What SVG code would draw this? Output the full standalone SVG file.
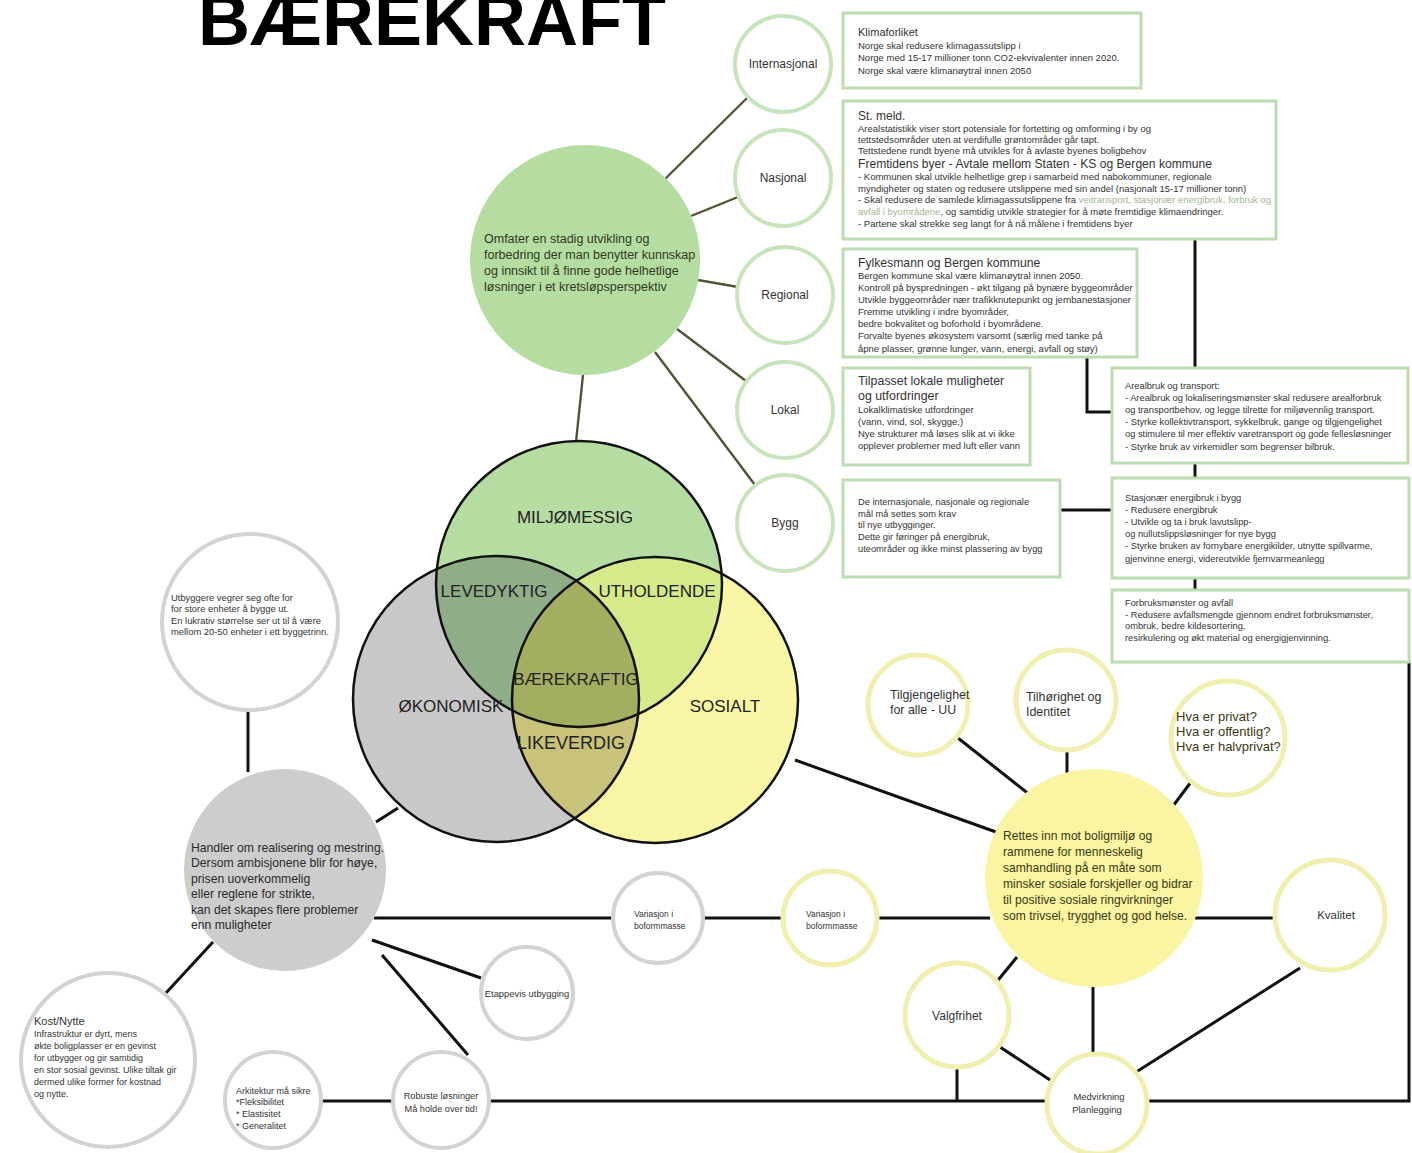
<svg xmlns="http://www.w3.org/2000/svg" width="1412" height="1153" viewBox="0 0 1412 1153">
<style>
.t{font-family:"Liberation Sans",Arial,sans-serif;fill:#333}
.v{font-family:"Liberation Sans",Arial,sans-serif;fill:#222;font-size:17px;text-anchor:middle}
.box{fill:#fff;stroke:#bddcb1;stroke-width:3}
.cg{fill:#fff;stroke:#c8e4bc;stroke-width:4}
.cy{fill:#fff;stroke:#f1efb0;stroke-width:5}
.cr{fill:#fff;stroke:#d3d3d3;stroke-width:4}
.ln{stroke:#111;stroke-width:3;fill:none}
.lo{stroke:#55523a;stroke-width:2.4;fill:none}
.s8{font-size:9.5px}
.s75{font-size:9.3px}
.m{text-anchor:middle}
.bg{font-size:12.5px;fill:#2e3b1f}
.gy{font-size:12.2px;fill:#2a2a2a}
.yw{font-size:12.1px;fill:#3b3810}
</style>
<defs>
<clipPath id="cG"><circle cx="579" cy="584" r="143"/></clipPath>
<clipPath id="cK"><circle cx="496" cy="699" r="143"/></clipPath>
<clipPath id="cY"><circle cx="655" cy="700" r="143"/></clipPath>
</defs>
<rect width="1412" height="1153" fill="#fff"/>

<g id="title"><text x="198" y="45" style="font-family:'Liberation Sans',Arial,sans-serif;font-weight:bold;font-size:72px;fill:#000">BÆREKRAFT</text></g>

<g id="connectors">
<line class="lo" x1="662" y1="182" x2="747" y2="98"/>
<line class="lo" x1="691" y1="216" x2="738" y2="197"/>
<line class="lo" x1="698" y1="280" x2="738" y2="287"/>
<line class="lo" x1="677" y1="329" x2="746" y2="381"/>
<line class="lo" x1="655" y1="352" x2="755" y2="485"/>
<line class="lo" x1="583" y1="375" x2="576" y2="442"/>
<polyline class="ln" points="1195,240 1195,368"/>
<polyline class="ln" points="1087,357 1087,412 1112,412"/>
<line class="ln" x1="1060" y1="510" x2="1112" y2="510"/>
<line class="ln" x1="1195" y1="463" x2="1195" y2="478"/>
<line class="ln" x1="1195" y1="578" x2="1195" y2="590"/>
<polyline class="ln" points="1409,662 1409,1101 1147,1101"/>
<line class="ln" x1="488" y1="1101" x2="1047" y2="1101"/>
<line class="ln" x1="321" y1="1101" x2="392" y2="1101"/>
<line class="ln" x1="957" y1="1067" x2="957" y2="1101"/>
<line class="ln" x1="248" y1="711" x2="248" y2="772"/>
<line class="ln" x1="376" y1="822" x2="398" y2="808"/>
<line class="ln" x1="795" y1="760" x2="996" y2="832"/>
<line class="ln" x1="374" y1="918" x2="613" y2="918"/>
<line class="ln" x1="703" y1="918" x2="782" y2="918"/>
<line class="ln" x1="878" y1="918" x2="990" y2="918"/>
<line class="ln" x1="1195" y1="918" x2="1275" y2="918"/>
<line class="ln" x1="372" y1="940" x2="481" y2="978"/>
<line class="ln" x1="213" y1="942" x2="165" y2="994"/>
<line class="ln" x1="382" y1="955" x2="468" y2="1055"/>
<line class="ln" x1="958" y1="738" x2="1030" y2="795"/>
<line class="ln" x1="1067" y1="750" x2="1067" y2="778"/>
<line class="ln" x1="1191" y1="782" x2="1173" y2="806"/>
<line class="ln" x1="1017" y1="957" x2="990" y2="990"/>
<line class="ln" x1="1093" y1="986" x2="1093" y2="1054"/>
<line class="ln" x1="997" y1="1045" x2="1050" y2="1080"/>
<line class="ln" x1="1300" y1="968" x2="1133" y2="1074"/>
</g>

<g id="venn">
<circle cx="496" cy="699" r="143" fill="#c8c8c8"/>
<circle cx="655" cy="700" r="143" fill="#f9f6a6"/>
<circle cx="579" cy="584" r="143" fill="#b5dca1"/>
<circle cx="655" cy="700" r="143" fill="#c9c27a" clip-path="url(#cK)"/>
<circle cx="496" cy="699" r="143" fill="#8fad87" clip-path="url(#cG)"/>
<circle cx="655" cy="700" r="143" fill="#d4ea8b" clip-path="url(#cG)"/>
<g clip-path="url(#cG)"><circle cx="655" cy="700" r="143" fill="#a4ae60" clip-path="url(#cK)"/></g>
<circle cx="496" cy="699" r="143" fill="none" stroke="#111" stroke-width="2.5"/>
<circle cx="655" cy="700" r="143" fill="none" stroke="#111" stroke-width="2.5"/>
<circle cx="579" cy="584" r="143" fill="none" stroke="#111" stroke-width="2.5"/>
<text class="v" x="575" y="523">MILJØMESSIG</text>
<text class="v" x="494" y="597">LEVEDYKTIG</text>
<text class="v" x="657" y="597">UTHOLDENDE</text>
<text class="v" x="576" y="685">BÆREKRAFTIG</text>
<text class="v" x="451" y="712">ØKONOMISK</text>
<text class="v" x="725" y="712">SOSIALT</text>
<text class="v" x="571" y="749" style="font-size:18px">LIKEVERDIG</text>
</g>

<g id="n-green">
<circle cx="585" cy="260" r="115" fill="#b5dca1"/>
<text class="t bg" x="484" y="243">Omfater en stadig utvikling og</text>
<text class="t bg" x="484" y="259">forbedring der man benytter kunnskap</text>
<text class="t bg" x="484" y="275">og innsikt til å finne gode helhetlige</text>
<text class="t bg" x="484" y="291">løsninger i et kretsløpsperspektiv</text>
</g>

<g id="n-internasjonal"><circle class="cg" cx="783" cy="64" r="48"/><text class="t m" style="font-size:12px" x="783" y="68">Internasjonal</text></g>
<g id="n-nasjonal"><circle class="cg" cx="783" cy="178" r="48"/><text class="t m" style="font-size:12px" x="783" y="182">Nasjonal</text></g>
<g id="n-regional"><circle class="cg" cx="785" cy="295" r="48"/><text class="t m" style="font-size:12px" x="785" y="299">Regional</text></g>
<g id="n-lokal"><circle class="cg" cx="785" cy="410" r="48"/><text class="t m" style="font-size:12px" x="785" y="414">Lokal</text></g>
<g id="n-bygg"><circle class="cg" cx="785" cy="523" r="48"/><text class="t m" style="font-size:12px" x="785" y="527">Bygg</text></g>

<g id="b-klima">
<rect class="box" x="843" y="13" width="298" height="75"/>
<text class="t" style="font-size:11px" x="858" y="36">Klimaforliket</text>
<text class="t s8" x="858" y="49">Norge skal redusere klimagassutslipp i</text>
<text class="t s8" x="858" y="61">Norge med 15-17 millioner tonn CO2-ekvivalenter innen 2020.</text>
<text class="t s8" x="858" y="74">Norge skal være klimanøytral innen 2050</text>
</g>

<g id="b-stmeld">
<rect class="box" x="843" y="101" width="433" height="138"/>
<text class="t" style="font-size:12px" x="858" y="120">St. meld.</text>
<text class="t s8" x="858" y="132">Arealstatistikk viser stort potensiale for fortetting og omforming i by og</text>
<text class="t s8" x="858" y="143">tettstedsområder uten at verdifulle grøntområder går tapt.</text>
<text class="t s8" x="858" y="154">Tettstedene rundt byene må utvikles for å avlaste byenes boligbehov</text>
<text class="t" style="font-size:12.1px" x="858" y="168">Fremtidens byer - Avtale mellom Staten - KS og Bergen kommune</text>
<text class="t s8" x="858" y="180">- Kommunen skal utvikle helhetlige grep i samarbeid med nabokommuner, regionale</text>
<text class="t s8" x="858" y="192">myndigheter og staten og redusere utslippene med sin andel (nasjonalt 15-17 millioner tonn)</text>
<text class="t s8" x="858" y="203">- Skal redusere de samlede klimagassutslippene fra <tspan fill="#9fb58f">veitransport, stasjonær energibruk, forbruk og</tspan></text>
<text class="t s8" x="858" y="215"><tspan fill="#9fb58f">avfall i byområdene</tspan>, og samtidig utvikle strategier for å møte fremtidige klimaendringer.</text>
<text class="t s8" x="858" y="227">- Partene skal strekke seg langt for å nå målene i fremtidens byer</text>
</g>

<g id="b-fylke">
<rect class="box" x="843" y="249" width="294" height="108"/>
<text class="t" style="font-size:12.2px" x="858" y="267">Fylkesmann og Bergen kommune</text>
<text class="t s8" x="858" y="279">Bergen kommune skal være klimanøytral innen 2050.</text>
<text class="t s8" x="858" y="291">Kontroll på byspredningen - økt tilgang på bynære byggeområder</text>
<text class="t s8" x="858" y="303">Utvikle byggeområder nær trafikknutepunkt og jernbanestasjoner</text>
<text class="t s8" x="858" y="315">Fremme utvikling i indre byområder,</text>
<text class="t s8" x="858" y="327">bedre bokvalitet og boforhold i byområdene.</text>
<text class="t s8" x="858" y="339">Forvalte byenes økosystem varsomt (særlig med tanke på</text>
<text class="t s8" x="858" y="352">åpne plasser, grønne lunger, vann, energi, avfall og støy)</text>
</g>

<g id="b-tilpasset">
<rect class="box" x="843" y="368" width="187" height="97"/>
<text class="t" style="font-size:12.4px" x="858" y="385">Tilpasset lokale muligheter</text>
<text class="t" style="font-size:12.4px" x="858" y="400">og utfordringer</text>
<text class="t s8" x="858" y="413">Lokalklimatiske utfordringer</text>
<text class="t s8" x="858" y="425"> (vann, vind, sol, skygge,)</text>
<text class="t s8" x="858" y="437">Nye strukturer må løses slik at vi ikke</text>
<text class="t s8" x="858" y="449">opplever problemer med luft eller vann</text>
</g>

<g id="b-areal">
<rect class="box" x="1112" y="368" width="296" height="95"/>
<text class="t s75" x="1125" y="389">Arealbruk og transport:</text>
<text class="t s75" x="1125" y="401">- Arealbruk og lokaliseringsmønster skal redusere arealforbruk</text>
<text class="t s75" x="1125" y="413">og transportbehov, og legge tilrette for miljøvennlig transport.</text>
<text class="t s75" x="1125" y="425">- Styrke kollektivtransport, sykkelbruk, gange og tilgjengelighet</text>
<text class="t s75" x="1125" y="437">og stimulere til mer effektiv varetransport og gode fellesløsninger</text>
<text class="t s75" x="1125" y="450">- Styrke bruk av virkemidler som begrenser bilbruk.</text>
</g>

<g id="b-bygg">
<rect class="box" x="843" y="480" width="217" height="97"/>
<text class="t s75" x="858" y="505">De internasjonale, nasjonale og regionale</text>
<text class="t s75" x="858" y="517">mål må settes som krav</text>
<text class="t s75" x="858" y="528">til nye utbygginger.</text>
<text class="t s75" x="858" y="540">Dette gir føringer på energibruk,</text>
<text class="t s75" x="858" y="552">uteområder og ikke minst plassering av bygg</text>
</g>

<g id="b-stasjonar">
<rect class="box" x="1112" y="478" width="297" height="100"/>
<text class="t s75" x="1125" y="501">Stasjonær energibruk i bygg</text>
<text class="t s75" x="1125" y="513">- Redusere energibruk</text>
<text class="t s75" x="1125" y="525">- Utvikle og ta i bruk lavutslipp-</text>
<text class="t s75" x="1125" y="537">og nullutslippsløsninger for nye bygg</text>
<text class="t s75" x="1125" y="549">- Styrke bruken av fornybare energikilder, utnytte spillvarme,</text>
<text class="t s75" x="1125" y="562">gjenvinne energi, videreutvikle fjernvarmeanlegg</text>
</g>

<g id="b-forbruk">
<rect class="box" x="1112" y="590" width="297" height="72"/>
<text class="t s75" x="1125" y="606">Forbruksmønster og avfall</text>
<text class="t s75" x="1125" y="618">- Redusere avfallsmengde gjennom endret forbruksmønster,</text>
<text class="t s75" x="1125" y="629">ombruk, bedre kildesortering,</text>
<text class="t s75" x="1125" y="641">resirkulering og økt material og energigjenvinning.</text>
</g>

<g id="n-utbyggere">
<circle class="cr" cx="250" cy="622" r="88"/>
<text class="t" style="font-size:9.4px" x="171" y="601">Utbyggere vegrer seg ofte for</text>
<text class="t" style="font-size:9.4px" x="171" y="612">for store enheter å bygge ut.</text>
<text class="t" style="font-size:9.4px" x="171" y="624">En lukrativ størrelse ser ut til å være</text>
<text class="t" style="font-size:9.4px" x="171" y="635">mellom 20-50 enheter i ett byggetrinn.</text>
</g>

<g id="n-grey">
<circle cx="285" cy="870" r="101" fill="#cdcdcd"/>
<text class="t gy" x="191" y="852">Handler om realisering og mestring.</text>
<text class="t gy" x="191" y="867">Dersom ambisjonene blir for høye,</text>
<text class="t gy" x="191" y="883">prisen uoverkommelig</text>
<text class="t gy" x="191" y="898">eller reglene for strikte,</text>
<text class="t gy" x="191" y="914">kan det skapes flere problemer</text>
<text class="t gy" x="191" y="929">enn muligheter</text>
</g>

<g id="n-kost">
<circle class="cr" cx="108" cy="1060" r="87"/>
<text class="t" style="font-size:11px" x="34" y="1025">Kost/Nytte</text>
<text class="t" style="font-size:9px" x="34" y="1037">Infrastruktur er dyrt, mens</text>
<text class="t" style="font-size:9px" x="34" y="1049">økte boligplasser er en gevinst</text>
<text class="t" style="font-size:9px" x="34" y="1061">for utbygger og gir samtidig</text>
<text class="t" style="font-size:9px" x="34" y="1073">en stor sosial gevinst. Ulike tiltak gir</text>
<text class="t" style="font-size:9px" x="34" y="1085">dermed ulike former for kostnad</text>
<text class="t" style="font-size:9px" x="34" y="1097">og nytte.</text>
</g>

<g id="n-arkitektur">
<circle class="cr" cx="273" cy="1100" r="48"/>
<text class="t" style="font-size:9px" x="236" y="1094">Arkitektur må sikre</text>
<text class="t" style="font-size:9px" x="236" y="1105">*Fleksibilitet</text>
<text class="t" style="font-size:9px" x="236" y="1117">* Elastisitet</text>
<text class="t" style="font-size:9px" x="236" y="1129">* Generalitet</text>
</g>

<g id="n-robuste">
<circle class="cr" cx="441" cy="1100" r="48"/>
<text class="t m" style="font-size:9.2px" x="441" y="1099">Robuste løsninger</text>
<text class="t m" style="font-size:9.2px" x="441" y="1112">Må holde over tid!</text>
</g>

<g id="n-etappevis">
<circle class="cr" cx="527" cy="993" r="46"/>
<text class="t m" style="font-size:9.4px" x="527" y="997">Etappevis utbygging</text>
</g>

<g id="n-variasjon1">
<circle class="cr" cx="658" cy="918" r="45"/>
<text class="t" style="font-size:8.5px" x="634" y="917">Variasjon i</text>
<text class="t" style="font-size:8.5px" x="634" y="929">boformmasse</text>
</g>

<g id="n-variasjon2">
<circle class="cy" cx="830" cy="918" r="47"/>
<text class="t" style="font-size:8.5px" x="806" y="917">Variasjon i</text>
<text class="t" style="font-size:8.5px" x="806" y="929">boformmasse</text>
</g>

<g id="n-yellow">
<circle cx="1094" cy="878" r="109" fill="#f9f5a2"/>
<text class="t yw" x="1003" y="840">Rettes inn mot boligmiljø og</text>
<text class="t yw" x="1003" y="856">rammene  for menneskelig</text>
<text class="t yw" x="1003" y="872">samhandling på en måte som</text>
<text class="t yw" x="1003" y="888">minsker sosiale forskjeller og bidrar</text>
<text class="t yw" x="1003" y="904">til positive sosiale ringvirkninger</text>
<text class="t yw" x="1003" y="920">som trivsel, trygghet og god helse.</text>
</g>

<g id="n-tilgjengelighet">
<circle class="cy" cx="918" cy="705" r="50"/>
<text class="t" style="font-size:12.4px" x="890" y="699">Tilgjengelighet</text>
<text class="t" style="font-size:12.4px" x="890" y="714">for alle - UU</text>
</g>
<g id="n-tilhorighet">
<circle class="cy" cx="1066" cy="700" r="50"/>
<text class="t" style="font-size:12.4px" x="1026" y="701">Tilhørighet og</text>
<text class="t" style="font-size:12.4px" x="1026" y="716">Identitet</text>
</g>
<g id="n-hvaer">
<circle class="cy" cx="1228" cy="738" r="57"/>
<text class="t" style="font-size:13px;fill:#3b3810" x="1176" y="721">Hva er privat?</text>
<text class="t" style="font-size:13px;fill:#3b3810" x="1176" y="736">Hva er offentlig?</text>
<text class="t" style="font-size:13px;fill:#3b3810" x="1176" y="751">Hva er halvprivat?</text>
</g>
<g id="n-kvalitet">
<circle class="cy" cx="1330" cy="915" r="55"/>
<text class="t m" style="font-size:11.5px" x="1336" y="919">Kvalitet</text>
</g>
<g id="n-valgfrihet">
<circle class="cy" cx="957" cy="1015" r="52"/>
<text class="t m" style="font-size:12px" x="957" y="1020">Valgfrihet</text>
</g>
<g id="n-medvirkning">
<circle class="cy" cx="1097" cy="1104" r="50"/>
<text class="t m" style="font-size:9.5px" x="1099" y="1100">Medvirkning</text>
<text class="t m" style="font-size:9.5px" x="1097" y="1113">Planlegging</text>
</g>
</svg>
